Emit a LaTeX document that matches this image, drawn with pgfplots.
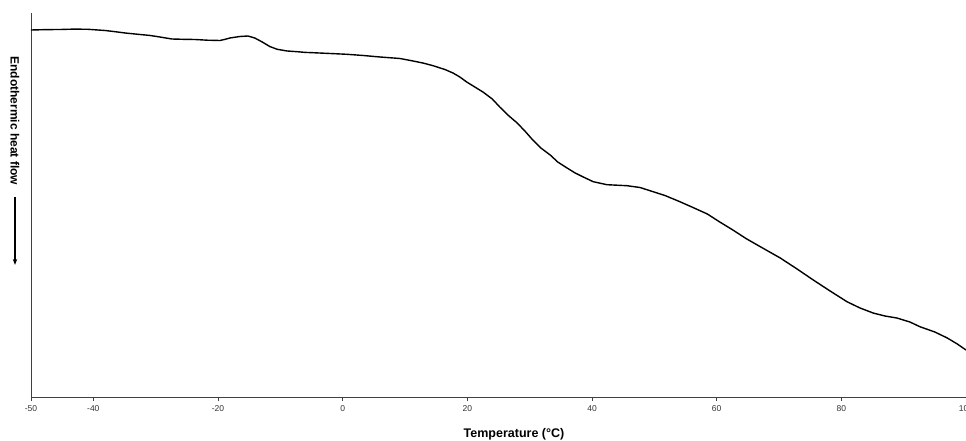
\documentclass[border=0pt]{standalone}
\usepackage{fontspec}
\setmainfont{Liberation Sans}
\usepackage{pgfplots}
\pgfplotsset{compat=1.18}
\usetikzlibrary{arrows.meta}
\begin{document}
\begin{tikzpicture}
\begin{axis}[
  scale only axis,
  width=935pt, height=384pt,
  xmin=-50, xmax=100, ymin=0, ymax=384,
  axis x line*=bottom, axis y line*=left,
  axis line style={draw=black!75, line width=0.9pt, -},
  xtick={-50,-40,-20,0,20,40,60,80,100},
  ytick=\empty,
  tick style={draw=black!75, line width=0.8pt},
  xtick pos=bottom,
  tick align=outside,
  major tick length=4pt,
  /pgf/number format/assume math mode=true,
  ticklabel style={font=\fontsize{8.5}{9}\selectfont, text=black!80},
  xticklabel style={yshift=-1pt},
  clip=false,
]
\addplot[black, line width=1.4pt] coordinates {
(-50.0,367.0) (-47.5,367.4) (-45.35,367.5) (-43.0,367.9) (-40.86,367.7) (-38.1,366.5) (-36.5,365.3)
(-34.9,364.0) (-32.5,362.5) (-31.0,361.6) (-29.6,360.3) (-27.4,358.0) (-25.6,357.7) (-23.7,357.5)
(-21.7,356.8) (-19.7,356.5) (-18.9,357.6) (-18.1,359.0) (-16.5,360.5) (-15.2,361.0) (-14.1,359.0)
(-12.9,355.0) (-11.7,350.5) (-10.5,347.7) (-8.9,346.0) (-7.3,345.3) (-6.0,344.6) (-4.8,344.3)
(-2.0,343.5) (0.7,342.7) (3.3,341.5) (6.0,340.0) (9.2,338.5) (11.3,336.0) (13.0,333.8)
(14.5,331.3) (16.4,327.5) (17.7,324.0) (18.8,320.0) (19.9,315.0) (21.2,310.0) (22.5,305.0)
(24.0,298.0) (25.2,290.0) (26.5,282.0) (28.0,274.0) (29.3,265.5) (30.5,257.0) (31.8,249.0)
(33.3,242.0) (34.5,235.0) (36.0,229.0) (37.3,224.0) (38.6,220.0) (40.2,215.3) (42.4,212.3)
(44.0,211.8) (45.6,211.3) (47.7,209.5) (49.3,206.3) (51.7,201.5) (54.1,195.3) (56.2,189.5)
(58.5,183.0) (60.5,175.0) (62.6,167.0) (64.7,158.5) (67.0,150.3) (70.2,139.0) (72.9,128.0)
(75.5,117.0) (78.2,106.0) (80.9,95.3) (83.0,89.0) (85.1,84.0) (87.0,81.0) (88.9,79.0)
(91.0,75.0) (92.6,70.3) (95.0,65.0) (97.0,59.0) (98.6,53.0) (100.0,47.0)
};
\coordinate (O) at (rel axis cs:0,0);
\coordinate (T) at (rel axis cs:1,1);
\node[font=\bfseries\fontsize{12.5}{13}\selectfont, anchor=center] at ([yshift=-37pt]rel axis cs:0.5166,0) {Temperature (°C)};
\node[font=\bfseries\fontsize{12}{13}\selectfont, rotate=-90, anchor=center] at ([xshift=-16pt]rel axis cs:0,0.719) {Endothermic heat flow};
\draw[black, line width=1.5pt, -{Stealth[length=6pt,width=4.5pt]}] ([xshift=-16pt]rel axis cs:0,0.521) -- ([xshift=-16pt]rel axis cs:0,0.344);
\end{axis}
\pgfresetboundingbox
\path[use as bounding box] ([xshift=-31pt,yshift=-43pt]O) rectangle ([yshift=13pt]T);
\end{tikzpicture}
\end{document}
